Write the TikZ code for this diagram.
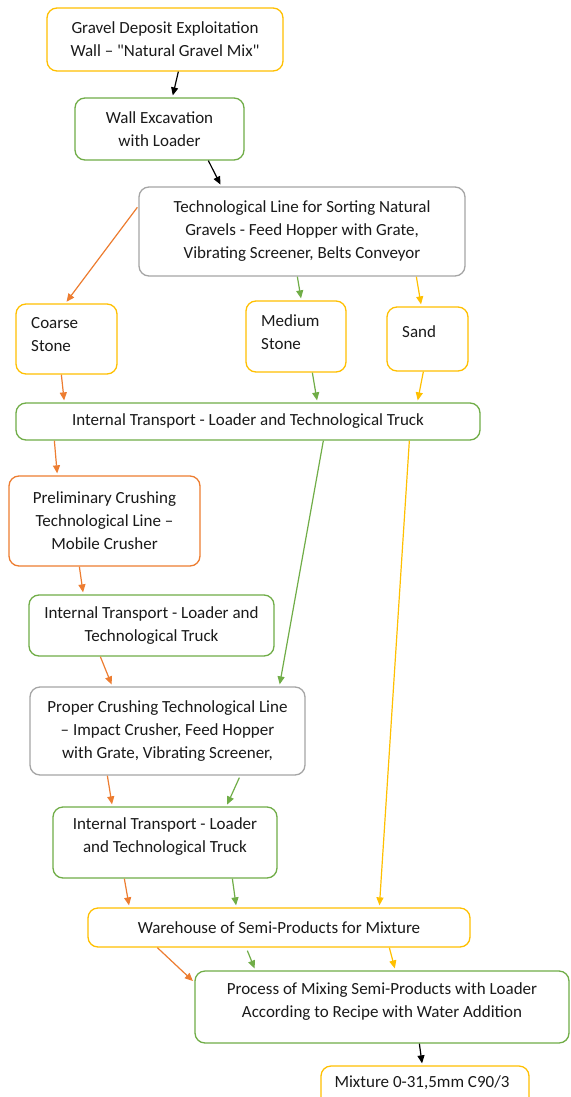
\documentclass[tikz,border=0pt]{standalone}
\usepackage{fontspec}
\setmainfont{Carlito}[Ligatures=TeXOff]
\usetikzlibrary{arrows.meta,calc}
\definecolor{cy}{HTML}{FFC000}
\definecolor{cg}{HTML}{70AD47}
\definecolor{co}{HTML}{ED7D31}
\definecolor{cgr}{HTML}{A5A5A5}
\definecolor{tx}{HTML}{1A1A1A}
\begin{document}
\begin{tikzpicture}[x=1pt,y=-1pt,
  box/.style={draw=#1, line width=1.3pt, rounded corners=10pt, fill=white, inner sep=0pt, align=center,
    font=\fontsize{17}{23}\selectfont, text=tx},
  txt/.style={inner sep=0pt, font=\fontsize{17}{23}\selectfont, text=tx},
  arr/.style={draw=#1, line width=1.2pt, shorten >=2pt, -{Triangle[length=8pt,width=7pt]}},
]
\clip (0,0) rectangle (570,1097);
\fill[white] (0,0) rectangle (570,1097);

% boxes
\node[box=cy, minimum width=236pt, minimum height=63pt] (b1) at (165,39.5) {Gravel Deposit Exploitation\\Wall – "Natural Gravel Mix"};
\node[box=cg, minimum width=169pt, minimum height=62pt] (b2) at (159.5,129) {Wall Excavation\\with Loader};
\node[box=cgr, minimum width=326pt, minimum height=89pt] (b3) at (302,231.5) {Technological Line for Sorting Natural\\Gravels - Feed Hopper with Grate,\\Vibrating Screener, Belts Conveyor};
\node[box=cy, minimum width=101pt, minimum height=70pt] (cs) at (66.5,339) {};
\node[txt, anchor=west, align=left] (cst) at (31,335) {Coarse\\Stone};
\node[box=cy, minimum width=100pt, minimum height=71pt] (ms) at (296,336.5) {};
\node[txt, anchor=west, align=left] (mst) at (261,332) {Medium\\Stone};
\node[box=cy, minimum width=81pt, minimum height=64pt] (sd) at (427.5,339) {};
\node[txt, anchor=west] (sdt) at (402,332) {Sand};
\node[box=cg, minimum width=464pt, minimum height=37pt] (t1) at (248,421.5) {Internal Transport - Loader and Technological Truck};
\node[box=co, minimum width=191pt, minimum height=90pt] (pc) at (104.5,521) {Preliminary Crushing\\Technological Line –\\Mobile Crusher};
\node[box=cg, minimum width=245pt, minimum height=61pt] (t2) at (151.5,625.5) {Internal Transport - Loader and\\Technological Truck};
\node[box=cgr, minimum width=275pt, minimum height=88pt] (pr) at (167.5,731) {Proper Crushing Technological Line\\– Impact Crusher, Feed Hopper\\with Grate, Vibrating Screener,};
\node[box=cg, minimum width=224pt, minimum height=71pt] (t3) at (165,842.5) {};
\node[txt, align=center] (t3t) at (165,836.5) {Internal Transport - Loader\\and Technological Truck};
\node[box=cy, minimum width=382pt, minimum height=39pt] (wh) at (279,927.5) {Warehouse of Semi-Products for Mixture};
\node[box=cg, minimum width=374pt, minimum height=72pt] (mx) at (382,1007) {};
\node[txt, align=center] (mxt) at (382,1001.5) {Process of Mixing Semi-Products with Loader\\According to Recipe with Water Addition};
\node[box=cy, minimum width=208pt, minimum height=48pt] (out) at (425,1090) {};
\node[txt] (outt) at (422,1083) {Mixture 0-31,5mm C90/3};

% connectors
\draw[arr=black] ($(b1.south west)+(132,0)$) -- ($(b2.north west)+(98,0)$);
\draw[arr=black] ($(b2.south west)+(134,0)$) -- ($(b3.north west)+(83,0)$);
\draw[arr=co] ($(b3.north west)+(-1,21)$) -- ($(cs.north west)+(50,0)$);
\draw[arr=cg] ($(b3.south west)+(159,0)$) -- ($(ms.north west)+(56,0)$);
\draw[arr=cy] ($(b3.south west)+(278,0)$) -- ($(sd.north west)+(35,0)$);
\draw[arr=co] ($(cs.south west)+(46,0)$) -- ($(t1.north west)+(49,0)$);
\draw[arr=cg] ($(ms.south west)+(67,0)$) -- ($(t1.north west)+(302,0)$);
\draw[arr=cy] ($(sd.south west)+(37,0)$) -- ($(t1.north west)+(402,0)$);
\draw[arr=co] ($(t1.south west)+(39,0)$) -- ($(pc.north west)+(49,0)$);
\draw[arr=cg] ($(t1.south west)+(308,0)$) -- ($(pr.north west)+(250,0)$);
\draw[arr=cy] ($(t1.south west)+(394,0)$) -- ($(wh.north west)+(292,0)$);
\draw[arr=co] ($(pc.south west)+(71,0)$) -- ($(t2.north west)+(55,0)$);
\draw[arr=co] ($(t2.south west)+(72,0)$) -- ($(pr.north west)+(83,0)$);
\draw[arr=co] ($(pr.south west)+(78,0)$) -- ($(t3.north west)+(60,0)$);
\draw[arr=cg] ($(pr.south west)+(210,2)$) -- ($(t3.north west)+(174,0)$);
\draw[arr=co] ($(t3.south west)+(72,0)$) -- ($(wh.north west)+(42,0)$);
\draw[arr=cg] ($(t3.south west)+(180,0)$) -- ($(wh.north west)+(149,0)$);
\draw[arr=co] ($(wh.south west)+(70,0)$) -- ($(mx.north west)+(0,12)$);
\draw[arr=cg] ($(wh.south west)+(160,3)$) -- ($(mx.north west)+(61,0)$);
\draw[arr=cy] ($(wh.south west)+(302,0)$) -- ($(mx.north west)+(201,0)$);
\draw[arr=black] ($(mx.south west)+(225,0)$) -- ($(out.north west)+(102,0)$);
\end{tikzpicture}
\end{document}
